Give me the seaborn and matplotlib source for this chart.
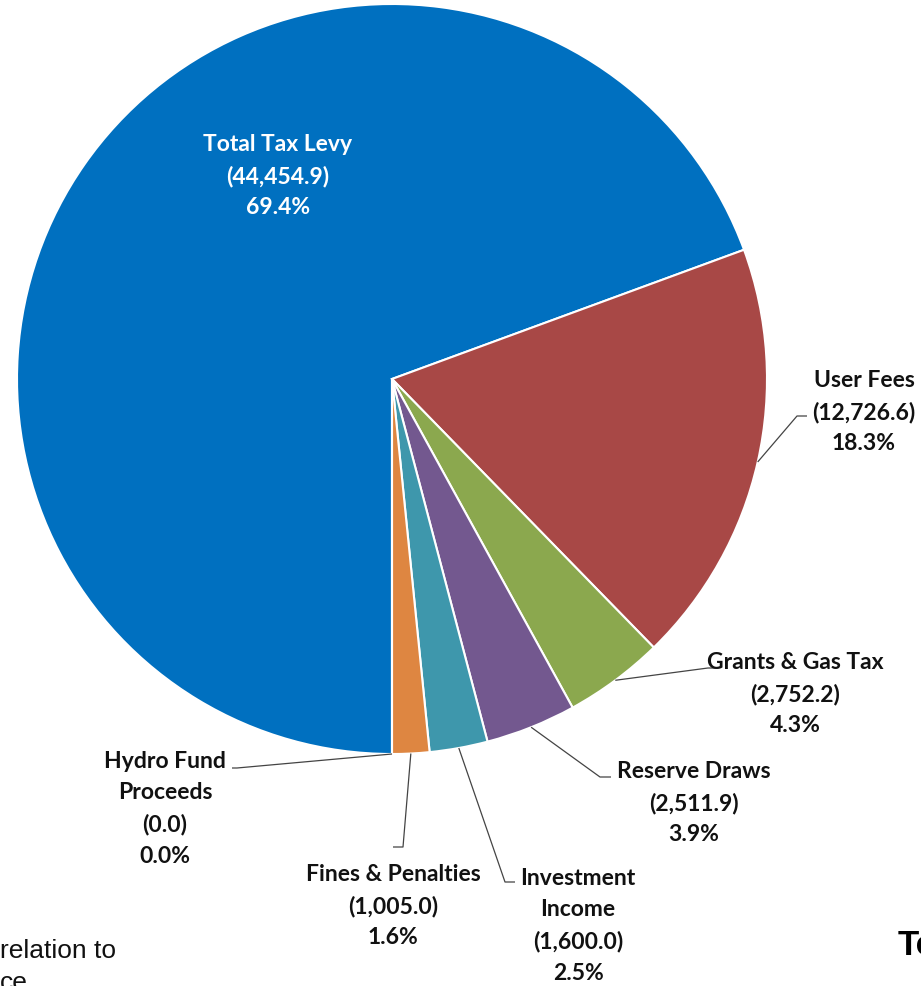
import numpy as np
import matplotlib
matplotlib.use("Agg")
import matplotlib.pyplot as plt
import seaborn as sns

# revenue sources (values in $000s) and their share of the total (%)
sources = ["Total Tax Levy", "User Fees", "Grants & Gas Tax", "Reserve Draws",
           "Investment\nIncome", "Fines & Penalties", "Hydro Fund\nProceeds"]
amounts = [44454.9, 12726.6, 2752.2, 2511.9, 1600.0, 1005.0, 0.0]
shares = [69.4, 18.3, 4.3, 3.9, 2.5, 1.6, 0.0]
colors = ["#0070C0", "#A84846", "#8BA84E", "#73588F", "#3E97AC", "#DE8641", "#D0D0D0"]

sns.set_theme(style="white")
plt.rcParams["font.family"] = ["Lato", "DejaVu Sans"]

W, H = 921, 987
fig = plt.figure(figsize=(W / 100, H / 100), dpi=100)
ax = fig.add_axes([0, 0, 1, 1])


def px(x, y):
    # pixel coords (from top-left) -> data coords
    return x, H - y


cx, cy = px(392, 380)
R = 375
start = 270
wedges, _ = ax.pie(shares, colors=colors, startangle=start, counterclock=False,
                   center=(cx, cy), radius=R,
                   wedgeprops=dict(edgecolor="white", linewidth=1.5))
ax.set_xlim(0, W)
ax.set_ylim(0, H)
ax.set_aspect("auto")
ax.axis("off")

# label text centre (px) and leader elbow / end (px)
label_pos = [(278, 176), (864, 412), (795, 694), (694, 803), (578, 926), (393, 906), (165, 809)]
leaders = [None, [(797, 417), (807, 417)], [(708, 669), (716, 669)],
           [(600, 778), (611, 778)], [(505, 883), (515, 883)],
           [(403, 848), (393, 848)], [(237, 769), (232, 769)]]

cum = np.cumsum([0] + shares[:-1])
for i, name in enumerate(sources):
    txt = f"{name}\n({amounts[i]:,.1f})\n{shares[i]:.1f}%"
    col = "white" if i == 0 else "#111111"
    x, y = px(*label_pos[i])
    ax.text(x, y, txt, ha="center", va="center", fontsize=16.5, fontweight="bold",
            color=col, linespacing=1.6)
    if leaders[i] is not None:
        mid = np.deg2rad(start - (cum[i] + shares[i] / 2) * 3.6)
        ex, ey = cx + R * np.cos(mid), cy + R * np.sin(mid)
        pts = [(ex, ey)] + [px(*p) for p in leaders[i]]
        xs, ys = zip(*pts)
        ax.plot(xs, ys, color="#444444", lw=0.9, solid_capstyle="butt")

# clipped texts from the surrounding slide
fig.text(0, px(0, 939)[1] / H, "relation to\nce", ha="left", va="top",
         fontsize=19, family="Liberation Sans", color="#111111", linespacing=1.4)
fig.text(898 / W, px(0, 955)[1] / H, "Total", ha="left", va="baseline",
         fontsize=25, fontweight="bold", family="Liberation Sans", color="black")

fig.savefig("out.png", dpi=100)
